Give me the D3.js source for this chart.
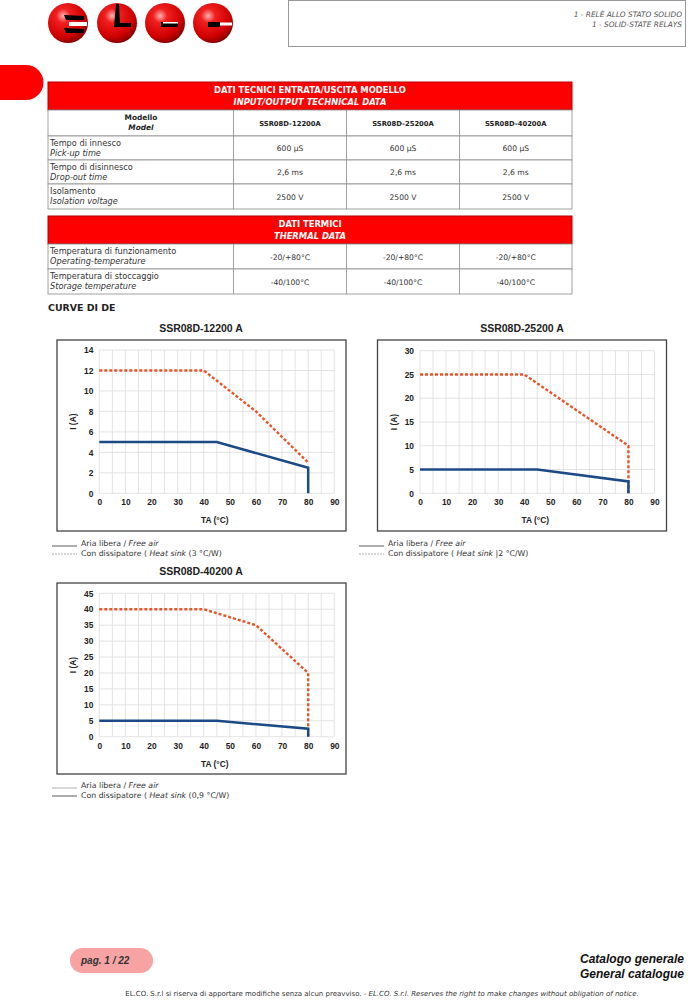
<!DOCTYPE html>
<html><head><meta charset="utf-8">
<script src="https://cdn.jsdelivr.net/npm/d3@7"></script>
<style>body{margin:0;background:#fff}svg{display:block}</style>
</head><body><svg id="page" width="694" height="1000"></svg>
<script>
// ---------- DATA ----------
const headerLines = ["1 - RELÈ ALLO STATO SOLIDO", "1 - SOLID-STATE RELAYS"];
const models = ["SSR08D-12200A", "SSR08D-25200A", "SSR08D-40200A"];
const ioLabels = [["Tempo di innesco", "Pick-up time"], ["Tempo di disinnesco", "Drop-out time"], ["Isolamento", "Isolation voltage"]];
const ioValues = [["600 µS", "600 µS", "600 µS"], ["2,6 ms", "2,6 ms", "2,6 ms"], ["2500 V", "2500 V", "2500 V"]];
const thermalLabels = [["Temperatura di funzionamento", "Operating-temperature"], ["Temperatura di stoccaggio", "Storage temperature"]];
const thermalValues = [["-20/+80°C", "-20/+80°C", "-20/+80°C"], ["-40/100°C", "-40/100°C", "-40/100°C"]];

const chartTitles = ["SSR08D-12200 A", "SSR08D-25200 A", "SSR08D-40200 A"];
const xTicks = [0, 10, 20, 30, 40, 50, 60, 70, 80, 90];
const yTicks1 = [0, 2, 4, 6, 8, 10, 12, 14];
const yTicks2 = [0, 5, 10, 15, 20, 25, 30];
const yTicks3 = [0, 5, 10, 15, 20, 25, 30, 35, 40, 45];
// free air (solid blue)
const freeX = [0, 45, 80, 80];
const freeY = [5, 5, 2.5, 0];
// heat sink (dashed orange)
const heatX1 = [0, 40, 60, 80];
const heatY1 = [12, 12, 8, 3];
const heatX2 = [0, 40, 80, 80];
const heatY2 = [25, 25, 10, 0];
const heatX3 = [0, 40, 60, 80, 80];
const heatY3 = [40, 40, 35, 20, 0];
const heatSinkNotes = ["(3 °C/W)", "|2 °C/W)", "(0,9 °C/W)"];

// ---------- DRAW ----------
const svg = d3.select("#page");
svg.append("rect").attr("width", 694).attr("height", 1000).attr("fill", "#fff");
const defs = svg.append("defs");
const rg = defs.append("radialGradient").attr("id", "ball").attr("cx", "38%").attr("cy", "32%").attr("r", "70%");
rg.append("stop").attr("offset", "0%").attr("stop-color", "#ffb0b0");
rg.append("stop").attr("offset", "25%").attr("stop-color", "#f02020");
rg.append("stop").attr("offset", "75%").attr("stop-color", "#d00000");
rg.append("stop").attr("offset", "100%").attr("stop-color", "#8a0000");

const SANS = "'DejaVu Sans', 'Noto Sans', sans-serif";
const ARIAL = "'Liberation Sans', Arial, sans-serif";

// Logo
const logoCx = [68, 117, 165, 213];
const logo = svg.append("g");
logo.selectAll("circle").data(logoCx).join("circle")
  .attr("cx", d => d).attr("cy", 23).attr("r", 20).attr("fill", "url(#ball)");
// E
logo.append("path").attr("fill", "#000").attr("d", "M64,15 L84,16 L84,20 L66,20 Z M64,28 L84,29 L84,33 L66,33 Z");
logo.append("rect").attr("x", 69).attr("y", 22).attr("width", 18).attr("height", 4).attr("fill", "#fff");
// L
logo.append("path").attr("fill", "#000").attr("d", "M116,4 L119,4 L120,23 L131,23 L131,27 L114,27 Z");
// C
logo.append("rect").attr("x", 161).attr("y", 22).attr("width", 17).attr("height", 5).attr("fill", "#000");
logo.append("rect").attr("x", 163).attr("y", 22).attr("width", 15).attr("height", 1.5).attr("fill", "#fff");
// O
logo.append("rect").attr("x", 208).attr("y", 22).attr("width", 12).attr("height", 5).attr("fill", "#000");
logo.append("rect").attr("x", 220).attr("y", 22.5).attr("width", 12).attr("height", 3).attr("fill", "#fff");

// Top right box
svg.append("rect").attr("x", 288.5).attr("y", 0.5).attr("width", 397).attr("height", 46)
  .attr("fill", "none").attr("stroke", "#999").attr("stroke-width", 1);
svg.selectAll(".hdr").data(headerLines).join("text")
  .attr("x", 682).attr("y", (d, i) => 17 + i * 10).attr("text-anchor", "end")
  .attr("font-family", SANS).attr("font-size", 7.4).attr("font-style", "italic").attr("fill", "#555").text(d => d);

// Red tab
svg.append("path").attr("d", "M0,65 H26 A17.5,17.5 0 0 1 26,100 H0 Z").attr("fill", "#ff0000");

// ---------- TABLES ----------
const colX = [48, 233.5, 346.5, 459.5, 572];
function table(top, headTitles, rowLabels, rowValues, withModel) {
  const g = svg.append("g");
  g.append("rect").attr("x", 48).attr("y", top).attr("width", 524).attr("height", 28)
    .attr("fill", "#ff0000").attr("stroke", "#b00000").attr("stroke-width", 1);
  g.append("text").attr("x", 310).attr("y", top + 11).attr("text-anchor", "middle")
    .attr("font-family", SANS).attr("font-size", 8.4).attr("font-weight", "bold").attr("fill", "#fff").text(headTitles[0]);
  g.append("text").attr("x", 310).attr("y", top + 23).attr("text-anchor", "middle")
    .attr("font-family", SANS).attr("font-size", 8.4).attr("font-weight", "bold").attr("font-style", "italic").attr("fill", "#fff").text(headTitles[1]);
  let y = top + 28;
  const rows = [];
  if (withModel) rows.push({ h: 26, model: true });
  rowLabels.forEach((l, i) => rows.push({ h: i === rowLabels.length - 1 && withModel ? 25 : (withModel ? 24 : 25), label: l, vals: rowValues[i] }));
  rows.forEach(r => {
    g.append("rect").attr("x", 48).attr("y", y).attr("width", 524).attr("height", r.h)
      .attr("fill", "#fff").attr("stroke", "#8a8a8a").attr("stroke-width", 0.8);
    for (let c = 1; c < 4; c++) g.append("line").attr("x1", colX[c]).attr("x2", colX[c]).attr("y1", y).attr("y2", y + r.h)
      .attr("stroke", "#8a8a8a").attr("stroke-width", 0.8);
    if (r.model) {
      g.append("text").attr("x", 141).attr("y", y + 10).attr("text-anchor", "middle").attr("font-family", SANS)
        .attr("font-size", 7.4).attr("font-weight", "bold").attr("fill", "#222").text("Modello");
      g.append("text").attr("x", 141).attr("y", y + 19.5).attr("text-anchor", "middle").attr("font-family", SANS)
        .attr("font-size", 7.4).attr("font-weight", "bold").attr("font-style", "italic").attr("fill", "#222").text("Model");
      models.forEach((m, c) => g.append("text").attr("x", (colX[c + 1] + colX[c + 2]) / 2).attr("y", y + 15.5)
        .attr("text-anchor", "middle").attr("font-family", SANS).attr("font-size", 6.8).attr("font-weight", "bold")
        .attr("fill", "#222").text(m));
    } else {
      g.append("text").attr("x", 50).attr("y", y + 9.5).attr("font-family", SANS).attr("font-size", 8.2)
        .attr("fill", "#333").text(r.label[0]);
      g.append("text").attr("x", 50).attr("y", y + 19.5).attr("font-family", SANS).attr("font-size", 8.2)
        .attr("font-style", "italic").attr("fill", "#333").text(r.label[1]);
      r.vals.forEach((v, c) => g.append("text").attr("x", (colX[c + 1] + colX[c + 2]) / 2).attr("y", y + r.h / 2 + 3)
        .attr("text-anchor", "middle").attr("font-family", SANS).attr("font-size", 7.6).attr("fill", "#333").text(v));
    }
    y += r.h;
  });
}
table(82, ["DATI TECNICI ENTRATA/USCITA MODELLO", "INPUT/OUTPUT TECHNICAL DATA"], ioLabels, ioValues, true);
table(216, ["DATI TERMICI", "THERMAL DATA"], thermalLabels, thermalValues, false);

svg.append("text").attr("x", 48).attr("y", 311).attr("font-family", SANS).attr("font-size", 9.4)
  .attr("font-weight", "bold").attr("fill", "#222").text("CURVE DI DE");

// ---------- CHARTS ----------
function chart(cfg) {
  const g = svg.append("g");
  const x = d3.scaleLinear().domain([0, 90]).range([cfg.px0, cfg.px1]);
  const y = d3.scaleLinear().domain([0, cfg.yTicks[cfg.yTicks.length - 1]]).range([cfg.py1, cfg.py0]);
  g.append("text").attr("x", cfg.titleX).attr("y", cfg.titleY).attr("text-anchor", "middle")
    .attr("font-family", ARIAL).attr("font-size", 10.5).attr("font-weight", "bold").attr("fill", "#222").text(cfg.title);
  g.append("rect").attr("x", cfg.bx).attr("y", cfg.by).attr("width", cfg.bw).attr("height", cfg.bh)
    .attr("fill", "#fff").attr("stroke", "#444").attr("stroke-width", 1.3);
  const xGrid = d3.range(0, 91, 5);
  g.selectAll(".vg").data(xGrid).join("line").attr("x1", d => x(d)).attr("x2", d => x(d))
    .attr("y1", y.range()[1]).attr("y2", y.range()[0]).attr("stroke", "#dcdcdc").attr("stroke-width", 0.8);
  g.selectAll(".hg").data(cfg.yTicks).join("line").attr("x1", x(0)).attr("x2", x(90))
    .attr("y1", d => y(d)).attr("y2", d => y(d)).attr("stroke", "#dcdcdc").attr("stroke-width", 0.8);
  const xa = g.append("g").attr("transform", `translate(0,${y(0)})`)
    .call(d3.axisBottom(x).tickValues(xTicks).tickSize(0).tickPadding(6));
  const ya = g.append("g").attr("transform", `translate(${x(0)},0)`)
    .call(d3.axisLeft(y).tickValues(cfg.yTicks).tickSize(0).tickPadding(6));
  [xa, ya].forEach(a => {
    a.select(".domain").remove();
    a.selectAll("text").attr("font-family", ARIAL).attr("font-size", 8.4).attr("font-weight", "bold").attr("fill", "#222");
  });
  g.append("text").attr("x", (x(0) + x(90)) / 2 - 2).attr("y", y(0) + 30).attr("text-anchor", "middle")
    .attr("font-family", ARIAL).attr("font-size", 8.4).attr("font-weight", "bold").attr("fill", "#222").text("TA (°C)");
  g.append("text").attr("transform", `translate(${cfg.bx + 19},${(y.range()[0] + y.range()[1]) / 2}) rotate(-90)`)
    .attr("text-anchor", "middle").attr("font-family", ARIAL).attr("font-size", 8.4).attr("font-weight", "bold")
    .attr("fill", "#222").text("I (A)");
  const line = d3.line().x(d => x(d[0])).y(d => y(d[1]));
  g.append("path").datum(d3.zip(cfg.hx, cfg.hy)).attr("d", line).attr("fill", "none")
    .attr("stroke", "#e8552b").attr("stroke-width", 2.4).attr("stroke-dasharray", "3,2");
  g.append("path").datum(d3.zip(freeX, freeY)).attr("d", line).attr("fill", "none")
    .attr("stroke", "#1b4a86").attr("stroke-width", 2.5).attr("stroke-linejoin", "miter");
  // legend
  const lx = cfg.legX, ly = cfg.legY;
  g.append("line").attr("x1", lx).attr("x2", lx + 25).attr("y1", ly + 2).attr("y2", ly + 2)
    .attr("stroke", cfg.leg1Col).attr("stroke-width", 0.8);
  g.append("line").attr("x1", lx).attr("x2", lx + 25).attr("y1", ly + 10).attr("y2", ly + 10)
    .attr("stroke", cfg.leg2Col).attr("stroke-width", 0.8).attr("stroke-dasharray", cfg.leg2Dash);
  const t1 = g.append("text").attr("x", lx + 29).attr("y", ly + 2).attr("font-family", SANS).attr("font-size", 7.8).attr("fill", "#333");
  t1.append("tspan").text("Aria libera / ");
  t1.append("tspan").attr("font-style", "italic").text("Free air");
  const t2 = g.append("text").attr("x", lx + 29).attr("y", ly + 12).attr("font-family", SANS).attr("font-size", 7.8).attr("fill", "#333");
  t2.append("tspan").text("Con dissipatore ( ");
  t2.append("tspan").attr("font-style", "italic").text("Heat sink");
  t2.append("tspan").text(" " + cfg.note);
}
chart({ title: chartTitles[0], titleX: 201, titleY: 332, bx: 57, by: 340, bw: 289, bh: 191,
  px0: 99.3, px1: 334.3, py0: 350, py1: 493.3, yTicks: yTicks1, hx: heatX1, hy: heatY1,
  legX: 52, legY: 544, leg1Col: "#333", leg2Col: "#999", leg2Dash: "2,1", note: heatSinkNotes[0] });
chart({ title: chartTitles[1], titleX: 522, titleY: 332, bx: 377.5, by: 340, bw: 289, bh: 191,
  px0: 420, px1: 654.5, py0: 350.7, py1: 493.3, yTicks: yTicks2, hx: heatX2, hy: heatY2,
  legX: 359, legY: 544, leg1Col: "#333", leg2Col: "#999", leg2Dash: "2,1", note: heatSinkNotes[1] });
chart({ title: chartTitles[2], titleX: 201, titleY: 575, bx: 57, by: 583, bw: 289, bh: 191,
  px0: 99.3, px1: 334.3, py0: 593.3, py1: 736.7, yTicks: yTicks3, hx: heatX3, hy: heatY3,
  legX: 52, legY: 786, leg1Col: "#999", leg2Col: "#333", leg2Dash: null, note: heatSinkNotes[2] });

// ---------- FOOTER ----------
svg.append("rect").attr("x", 70).attr("y", 948).attr("width", 83).attr("height", 25).attr("rx", 12.5)
  .attr("fill", "#f7a3a3");
svg.append("text").attr("x", 81).attr("y", 964).attr("font-family", ARIAL).attr("font-size", 10)
  .attr("font-weight", "bold").attr("font-style", "italic").attr("fill", "#333").text("pag. 1 / 22");
svg.append("text").attr("x", 684).attr("y", 963).attr("text-anchor", "end").attr("font-family", ARIAL).attr("font-size", 12)
  .attr("font-weight", "bold").attr("font-style", "italic").attr("fill", "#111").text("Catalogo generale");
svg.append("text").attr("x", 684).attr("y", 978).attr("text-anchor", "end").attr("font-family", ARIAL).attr("font-size", 12)
  .attr("font-weight", "bold").attr("font-style", "italic").attr("fill", "#111").text("General catalogue");
const ft = svg.append("text").attr("x", 382).attr("y", 996).attr("text-anchor", "middle").attr("font-family", SANS)
  .attr("font-size", 7.0).attr("fill", "#333");
ft.append("tspan").text("EL.CO. S.r.l si riserva di apportare modifiche senza alcun preavviso. - ");
ft.append("tspan").attr("font-style", "italic").text("EL.CO. S.r.l. Reserves the right to make changes without obligation of notice.");
</script></body></html>
